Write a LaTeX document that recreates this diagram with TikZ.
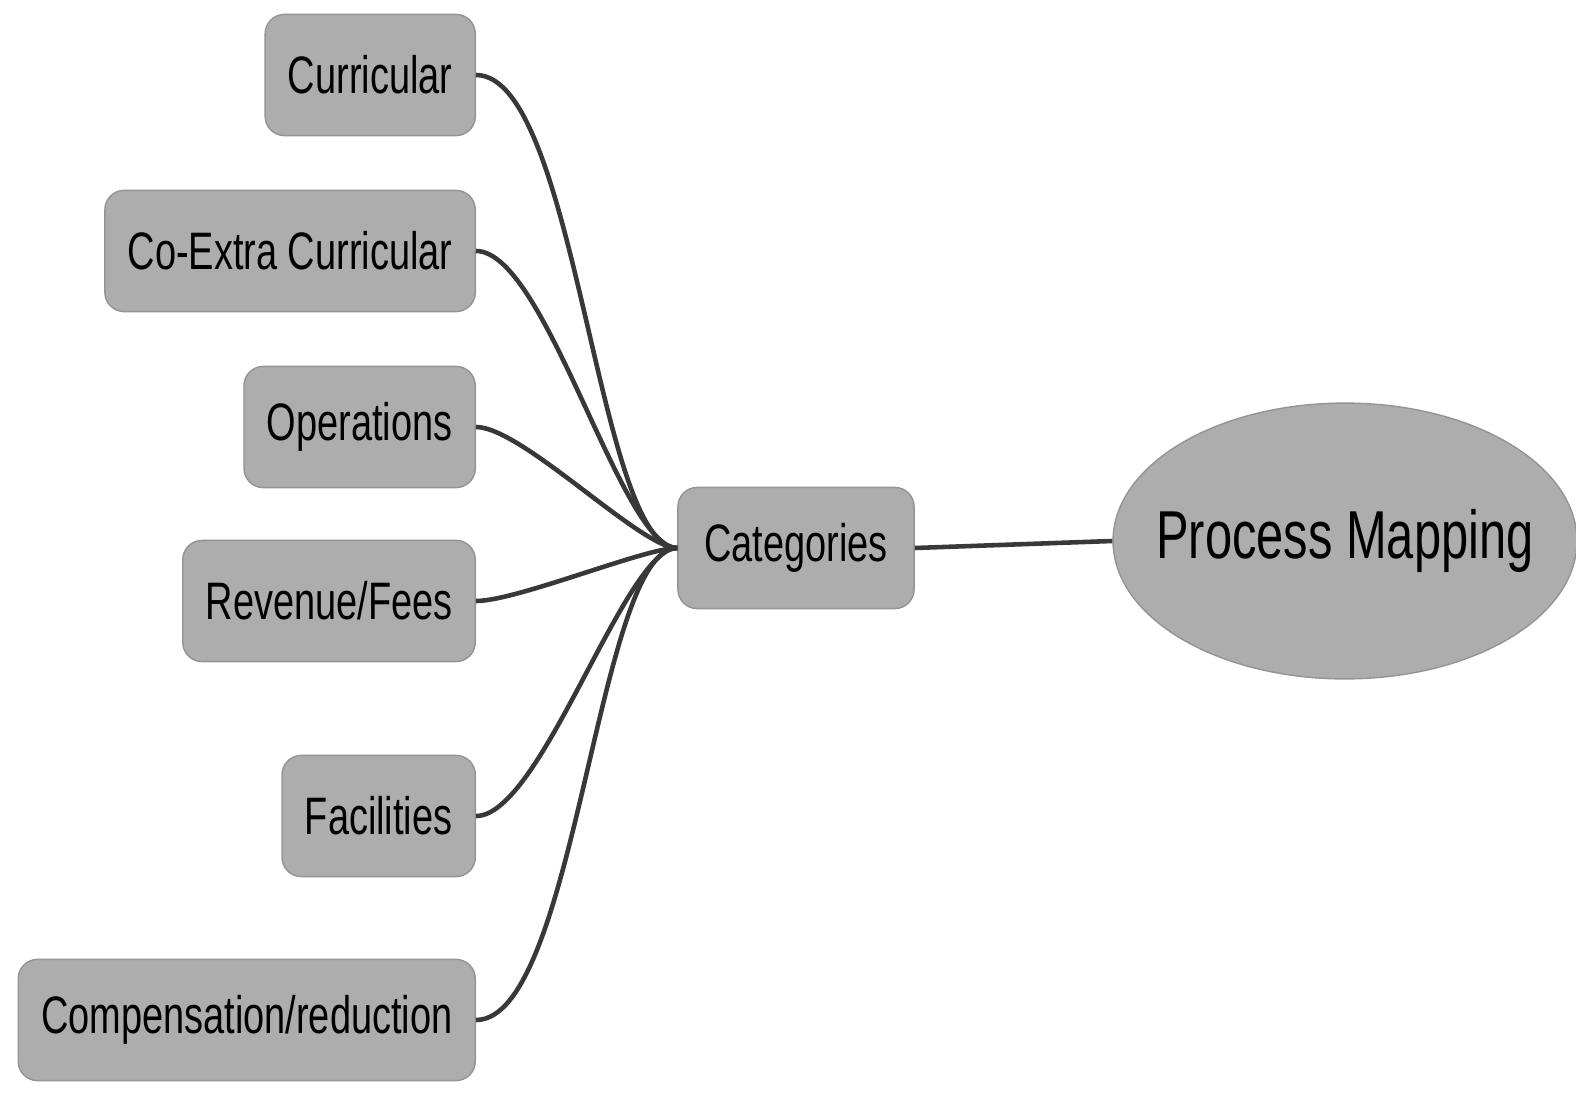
\documentclass[tikz,border=0pt]{standalone}
\usepackage{fontspec}
\setmainfont{Liberation Sans}[FakeStretch=0.72]
\usetikzlibrary{shapes.geometric}

\begin{document}
\begin{tikzpicture}[x=0.02cm,y=-0.02cm,
    catbox/.style={rounded corners=11pt,fill=black!32,draw=black!42,line width=0.8pt,
      minimum height=69pt,inner xsep=13pt,font=\fontsize{30}{34}\selectfont},
    link/.style={draw=black!78,line width=2.6pt}]
      \useasboundingbox (0,0) rectangle (1576,1095);
      \node[catbox,anchor=east] (curr) at (476,75) {Curricular};
      \node[catbox,anchor=east] (coex) at (476,251) {Co-Extra Curricular};
      \node[catbox,anchor=east] (oper) at (476,427) {Operations};
      \node[catbox,anchor=east] (reve) at (476,601) {Revenue/Fees};
      \node[catbox,anchor=east] (faci) at (476,816) {Facilities};
      \node[catbox,anchor=east] (comp) at (476,1020) {Compensation/reduction};
      \node[catbox,inner xsep=15pt] (cat) at (796,548) {Categories};
      \node[ellipse,fill=black!32,draw=black!42,line width=0.8pt,minimum width=261pt,
        minimum height=157pt,inner xsep=-14pt,inner ysep=0pt,
        font=\fontsize{38.6}{42}\selectfont] (pm) at (1345,541) {Process Mapping};
      \foreach \n in {curr,coex,oper,reve,faci,comp}
        \draw[link] (\n.east) to[out=0,in=180,out looseness=0.5,in looseness=0.4] (cat.west);
      \draw[link] (cat.east) -- (pm.west);
\end{tikzpicture}
\end{document}
